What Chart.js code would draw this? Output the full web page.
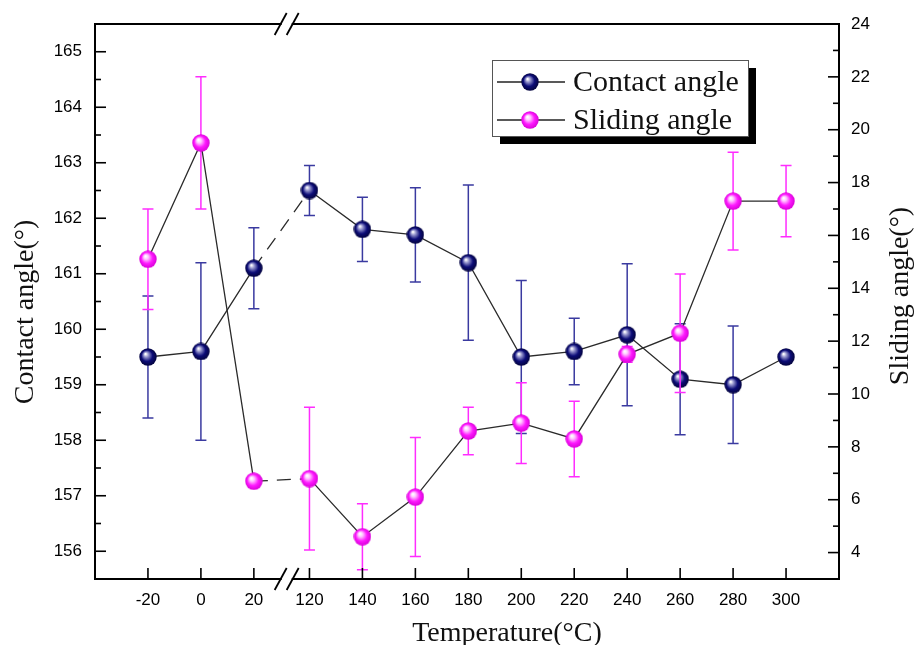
<!DOCTYPE html>
<html>
<head>
<meta charset="utf-8">
<script src="https://cdn.jsdelivr.net/npm/chart.js@4.4.1/dist/chart.umd.min.js"></script>
<style>
  html, body { margin: 0; padding: 0; background: #fff; }
  #wrap { width: 916px; height: 645px; }
</style>
</head>
<body>
<div id="wrap"><canvas id="chart" width="916" height="645"></canvas></div>
<script>
// temperatures (°C), axis is broken between 20 and 120
const categories = ['-20', '0', '20', '120', '140', '160', '180', '200', '220', '240', '260', '280', '300'];

const contactAngle = [159.5, 159.6, 161.1, 162.5, 161.8, 161.7, 161.2, 159.5, 159.6, 159.9, 159.1, 159.0, 159.5];
const contactErr   = [1.1, 1.6, 0.73, 0.45, 0.58, 0.85, 1.4, 1.38, 0.6, 1.28, 1.0, 1.06, 0.05];

const slidingAngle = [15.1, 19.5, 6.7, 6.8, 4.6, 6.1, 8.6, 8.9, 8.3, 11.5, 12.3, 17.3, 17.3];
const slidingErr   = [1.9, 2.5, 0, 2.7, 1.25, 2.25, 0.9, 1.53, 1.43, 0.3, 2.24, 1.85, 1.35];

const leftTicks = [156, 157, 158, 159, 160, 161, 162, 163, 164, 165];
const rightTicks = [4, 6, 8, 10, 12, 14, 16, 18, 20, 22, 24];

const BREAK_AFTER = 2;   // index of '20'
const BREAK_GAP = 0.05;
const xPos = i => i + (i > BREAK_AFTER ? BREAK_GAP : 0);

const TICK_FONT = { family: 'Liberation Sans', size: 17 };
const SERIF = 'Liberation Serif';

// little shaded balls like the original markers
function makeBall(light, base, dark) {
  const size = 18;
  const c = document.createElement('canvas');
  c.width = c.height = size;
  const g = c.getContext('2d');
  const r = size / 2;
  const grad = g.createRadialGradient(r * 0.72, r * 0.66, 0.5, r, r, r);
  grad.addColorStop(0, '#ffffff');
  grad.addColorStop(0.22, light);
  grad.addColorStop(0.6, base);
  grad.addColorStop(1, dark);
  g.fillStyle = grad;
  g.beginPath();
  g.arc(r, r, r - 0.3, 0, Math.PI * 2);
  g.fill();
  return c;
}
const navyBall = makeBall('#9a9ad0', '#0c0c78', '#03033a');
const pinkBall = makeBall('#ffc8ff', '#ff19ff', '#d600d6');

const errorBars = {
  id: 'errorBars',
  beforeDatasetDraw(chart, args) {
    const ds = chart.data.datasets[args.index];
    if (!ds.errors) return;
    const yScale = chart.scales[ds.yAxisID];
    const ctx = chart.ctx;
    ctx.save();
    ctx.strokeStyle = ds.errorColor;
    ctx.lineWidth = 1.5;
    args.meta.data.forEach((pt, i) => {
      const e = ds.errors[i];
      if (!e) return;
      const v = ds.data[i].y;
      const top = yScale.getPixelForValue(v + e);
      const bot = yScale.getPixelForValue(v - e);
      ctx.beginPath();
      ctx.moveTo(pt.x, top); ctx.lineTo(pt.x, bot);
      ctx.moveTo(pt.x - 5.5, top); ctx.lineTo(pt.x + 5.5, top);
      ctx.moveTo(pt.x - 5.5, bot); ctx.lineTo(pt.x + 5.5, bot);
      ctx.stroke();
    });
    ctx.restore();
  }
};

function line(ctx, x1, y1, x2, y2) {
  ctx.beginPath();
  ctx.moveTo(x1, y1);
  ctx.lineTo(x2, y2);
  ctx.stroke();
}

const frame = {
  id: 'frame',
  afterDraw(chart) {
    const { ctx, chartArea: a, scales } = chart;
    ctx.save();
    ctx.strokeStyle = '#000';
    ctx.lineWidth = 2;
    ctx.strokeRect(a.left, a.top, a.right - a.left, a.bottom - a.top);

    ctx.lineWidth = 1.6;
    // left axis, ticks pointing in
    for (let v = 155.5; v <= 165.5; v += 0.5) {
      if (v <= 155.5 || v >= 165.5) continue;
      const py = scales.y.getPixelForValue(v);
      line(ctx, a.left, py, a.left + (v % 1 === 0 ? 11 : 6), py);
    }
    // right axis
    for (let v = 4; v <= 23; v++) {
      const py = scales.y2.getPixelForValue(v);
      line(ctx, a.right, py, a.right - (v % 2 === 0 ? 11 : 6), py);
    }
    // bottom axis
    categories.forEach((c, i) => {
      const px = scales.x.getPixelForValue(xPos(i));
      line(ctx, px, a.bottom, px, a.bottom - 11);
    });

    // axis break marks
    const bx = (scales.x.getPixelForValue(xPos(BREAK_AFTER)) + scales.x.getPixelForValue(xPos(BREAK_AFTER + 1))) / 2 + 5;
    [a.top, a.bottom].forEach(y => {
      ctx.fillStyle = '#fff';
      ctx.fillRect(bx - 5, y - 2, 10, 4);
      ctx.lineWidth = 1.8;
      line(ctx, bx - 12, y + 11, bx, y - 11);
      line(ctx, bx, y + 11, bx + 12, y - 11);
    });

    // axis titles
    ctx.fillStyle = '#111';
    ctx.font = `28px "${SERIF}"`;
    ctx.textAlign = 'center';
    ctx.textBaseline = 'middle';
    ctx.fillText('Temperature(°C)', 507, 634);
    ctx.save();
    ctx.translate(26, 312);
    ctx.rotate(-Math.PI / 2);
    ctx.fillText('Contact angle(°)', 0, 0);
    ctx.restore();
    ctx.save();
    ctx.translate(901, 296);
    ctx.rotate(-Math.PI / 2);
    ctx.fillText('Sliding angle(°)', 0, 0);
    ctx.restore();

    // legend box with drop shadow
    const lx = 492, ly = 60, lw = 256, lh = 76;
    ctx.fillStyle = '#000';
    ctx.fillRect(lx + 8, ly + 8, lw, lh);
    ctx.fillStyle = '#fff';
    ctx.fillRect(lx, ly, lw, lh);
    ctx.strokeStyle = '#555';
    ctx.lineWidth = 1;
    ctx.strokeRect(lx + 0.5, ly + 0.5, lw, lh);
    chart.data.datasets.forEach((ds, i) => {
      const cy = ly + 22 + i * 38;
      ctx.strokeStyle = '#222';
      ctx.lineWidth = 1.3;
      line(ctx, lx + 5, cy, lx + 73, cy);
      ctx.drawImage(ds.pointStyle, lx + 38 - 9, cy - 9);
      ctx.fillStyle = '#111';
      ctx.font = `30px "${SERIF}"`;
      ctx.textAlign = 'left';
      ctx.fillText(ds.label, lx + 81, cy + 1);
    });
    ctx.restore();
  }
};

const dashAcrossBreak = c => (c.p0DataIndex === BREAK_AFTER ? [14, 9] : undefined);

new Chart(document.getElementById('chart'), {
  type: 'line',
  data: {
    datasets: [
      {
        label: 'Contact angle',
        data: contactAngle.map((v, i) => ({ x: xPos(i), y: v })),
        errors: contactErr,
        errorColor: '#3a3aa0',
        yAxisID: 'y',
        borderColor: '#2a2a2a',
        borderWidth: 1.3,
        pointStyle: navyBall,
        pointRadius: 9,
        tension: 0,
        order: 2,
        segment: { borderDash: dashAcrossBreak }
      },
      {
        label: 'Sliding angle',
        data: slidingAngle.map((v, i) => ({ x: xPos(i), y: v })),
        errors: slidingErr,
        errorColor: '#ff2cff',
        yAxisID: 'y2',
        borderColor: '#2a2a2a',
        borderWidth: 1.3,
        pointStyle: pinkBall,
        pointRadius: 9,
        tension: 0,
        order: 1,
        segment: { borderDash: dashAcrossBreak }
      }
    ]
  },
  options: {
    responsive: false,
    devicePixelRatio: 1,
    animation: false,
    layout: { padding: { top: 24, left: 0, right: 0, bottom: 0 } },
    plugins: {
      legend: { display: false },
      tooltip: { enabled: false }
    },
    scales: {
      x: {
        type: 'linear',
        min: -1,
        max: categories.length + BREAK_GAP,
        grid: { display: false, drawTicks: false },
        border: { display: false },
        afterBuildTicks: s => { s.ticks = categories.map((c, i) => ({ value: xPos(i) })); },
        afterFit: s => { s.height = 66; },
        ticks: {
          autoSkip: false,
          maxRotation: 0,
          padding: 11,
          color: '#000',
          font: TICK_FONT,
          callback: (v, i) => categories[i]
        }
      },
      y: {
        position: 'left',
        min: 155.5,
        max: 165.5,
        grid: { display: false, drawTicks: false },
        border: { display: false },
        afterBuildTicks: s => { s.ticks = leftTicks.map(v => ({ value: v })); },
        afterFit: s => { s.width = 95; },
        ticks: { padding: 13, color: '#000', font: TICK_FONT }
      },
      y2: {
        position: 'right',
        min: 3,
        max: 24,
        grid: { display: false, drawTicks: false },
        border: { display: false },
        afterBuildTicks: s => { s.ticks = rightTicks.map(v => ({ value: v })); },
        afterFit: s => { s.width = 77; },
        ticks: { padding: 12, color: '#000', font: TICK_FONT }
      }
    }
  },
  plugins: [errorBars, frame]
});
</script>
</body>
</html>
